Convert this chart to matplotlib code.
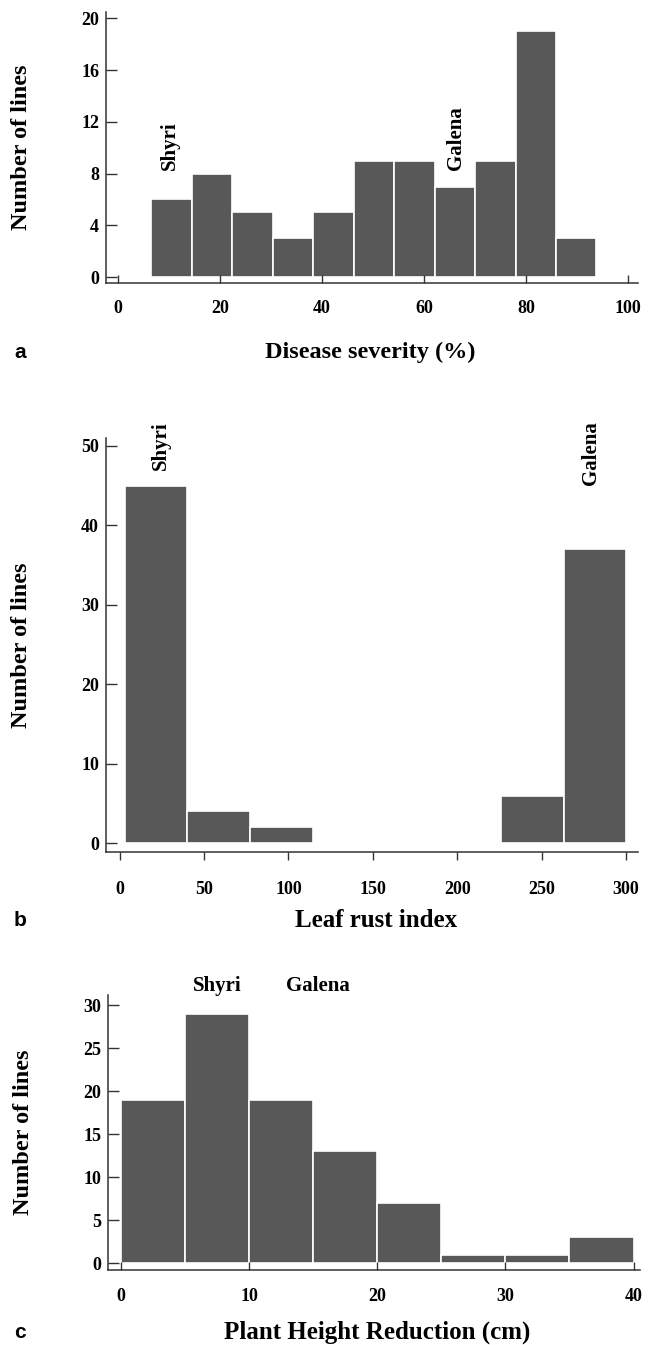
import matplotlib
matplotlib.use("Agg")
import matplotlib.pyplot as plt

# panel a : disease severity
a_edges = [6.5, 14.4, 22.4, 30.3, 38.3, 46.2, 54.1, 62.1, 70.0, 78.0, 85.9, 93.8]
a_counts = [6, 8, 5, 3, 5, 9, 9, 7, 9, 19, 3]
a_xticks = [0, 20, 40, 60, 80, 100]
a_yticks = [0, 4, 8, 12, 16, 20]

# panel b : leaf rust index
b_edges = [3, 40.1, 77.2, 114.4, 151.5, 188.6, 225.8, 262.9, 300]
b_counts = [45, 4, 2, 0, 0, 0, 6, 37]
b_xticks = [0, 50, 100, 150, 200, 250, 300]
b_yticks = [0, 10, 20, 30, 40, 50]

# panel c : plant height reduction
c_edges = [0, 5, 10, 15, 20, 25, 30, 35, 40]
c_counts = [19, 29, 19, 13, 7, 1, 1, 3]
c_xticks = [0, 10, 20, 30, 40]
c_yticks = [0, 5, 10, 15, 20, 25, 30]

# parent lines (label positions)
a_parents = ["Shyri", "Galena"]
a_parent_x = [10.2, 66.2]
b_parents = ["Shyri", "Galena"]
b_parent_x = [24.5, 279.4]
c_parents = ["Shyri", "Galena"]
c_parent_x = [7.5, 15.4]

serif = ["Liberation Serif", "DejaVu Serif"]
bar_col = "#585858"
ax_col = "#333333"

fig = plt.figure(figsize=(6.48, 13.45), dpi=100)

def draw(rect, edges, counts, xticks, yticks, xlim, ylim, xdir, xpad):
    ax = fig.add_axes(rect)
    widths = [edges[i + 1] - edges[i] for i in range(len(counts))]
    ax.bar(edges[:-1], counts, width=widths, align="edge",
           color=bar_col, edgecolor="white", linewidth=1.2)
    ax.set_xlim(*xlim)
    ax.set_ylim(*ylim)
    ax.set_xticks(xticks)
    ax.set_yticks(yticks)
    for s in ["top", "right"]:
        ax.spines[s].set_visible(False)
    for s in ["left", "bottom"]:
        ax.spines[s].set_color(ax_col)
        ax.spines[s].set_linewidth(1.1)
    ax.tick_params(axis="y", direction="in", length=8, width=1, color=ax_col, pad=5)
    ax.tick_params(axis="x", direction=xdir, length=6, width=1, color=ax_col, pad=xpad)
    for lab in ax.get_xticklabels() + ax.get_yticklabels():
        lab.set_family(serif)
        lab.set_fontweight("bold")
        lab.set_fontsize(13)
    ax.set_ylabel("Number of lines", family=serif, fontweight="bold",
                  fontsize=17.5, va="center")
    ax.yaxis.set_label_coords(-0.158, 0.5)
    return ax

# a
ax1 = draw([106 / 648, 1 - 283 / 1345, 532 / 648, 271 / 1345],
           a_edges, a_counts, a_xticks, a_yticks, (-2.4, 102), (-0.46, 20.5), "in", 12)
for name, x in zip(a_parents, a_parent_x):
    ax1.text(x, 8.3, name, rotation=90, ha="center", va="bottom",
             family=serif, fontweight="bold", fontsize=15)
ax1.set_xlabel("Disease severity (%)", family=serif, fontweight="bold",
               fontsize=17.5, va="center")
ax1.xaxis.set_label_coords(0.496, -0.255)

# b
ax2 = draw([106 / 648, 1 - 852 / 1345, 532 / 648, 414 / 1345],
           b_edges, b_counts, b_xticks, b_yticks, (-8, 307), (-1.1, 51), "out", 15)
for name, x in zip(b_parents, b_parent_x):
    ax2.text(x, 53.1, name, rotation=90, ha="center", va="top", clip_on=False,
             family=serif, fontweight="bold", fontsize=15)
ax2.set_xlabel("Leaf rust index", family=serif, fontweight="bold",
               fontsize=18, va="center")
ax2.xaxis.set_label_coords(0.508, -0.166)

# c
ax3 = draw([108 / 648, 1 - 1270 / 1345, 532 / 648, 275 / 1345],
           c_edges, c_counts, c_xticks, c_yticks, (-1.0, 40.5), (-0.8, 31.2), "in", 13)
for name, x in zip(c_parents, c_parent_x):
    ax3.text(x, 32.2, name, ha="center", va="center", clip_on=False,
             family=serif, fontweight="bold", fontsize=15)
ax3.set_xlabel("Plant Height Reduction (cm)", family=serif, fontweight="bold",
               fontsize=18, va="center")
ax3.xaxis.set_label_coords(0.506, -0.225)

# panel letters
for letter, ypix in zip(["a", "b", "c"], [352, 921, 1332]):
    fig.text(14 / 648, 1 - ypix / 1345, letter, family=["Liberation Sans", "DejaVu Sans"],
             fontweight="bold", fontsize=15, ha="left", va="center")

fig.savefig("out.png", dpi=100)
